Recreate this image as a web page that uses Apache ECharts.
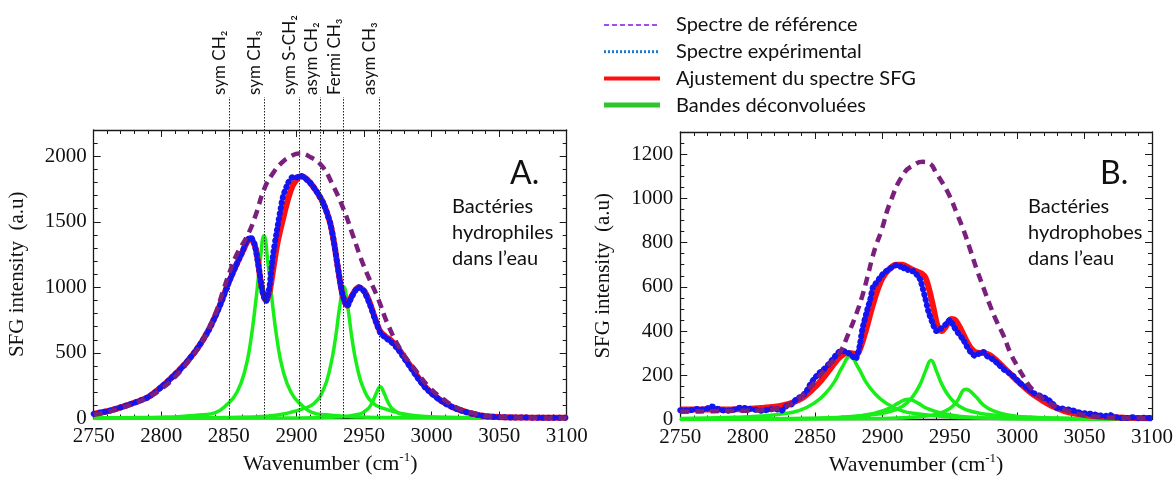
<!DOCTYPE html>
<html>
<head>
<meta charset="utf-8">
<script src="https://cdn.jsdelivr.net/npm/echarts@6/dist/echarts.min.js"></script>
<style>
html, body { margin: 0; padding: 0; background: #fff; }
#chart { width: 1176px; height: 482px; }
</style>
</head>
<body>
<div id="chart"></div>
<script>
// ---- data (wavenumber cm-1, SFG intensity a.u.) ----
// panel A : bacteries hydrophiles
var refA = [[2750,30],[2760,50],[2770,80],[2780,115],[2790,160],[2800,225],[2810,315],[2820,435],[2830,580],[2840,800],[2846,980],[2850,1100],[2856,1255],[2864,1400],[2870,1555],[2876,1746],[2882,1860],[2889,1950],[2896,2000],[2902,2020],[2911,1990],[2919,1924],[2926,1800],[2935,1593],[2942,1390],[2950,1160],[2960,925],[2968,710],[2978,510],[2988,370],[2998,242],[3008,153],[3020,76],[3032,38],[3045,14],[3060,8],[3080,5],[3100,4]];
var expA = [[2750,35],[2755,45],[2760,55],[2765,68],[2770,85],[2775,102],[2780,120],[2785,140],[2790,160],[2795,195],[2800,240],[2805,285],[2810,335],[2815,385],[2820,445],[2825,510],[2830,585],[2835,670],[2840,780],[2845,900],[2850,1040],[2855,1160],[2860,1270],[2863,1350],[2866,1385],[2869,1330],[2872,1160],[2875,960],[2877.5,892],[2880,1000],[2882.5,1236],[2886,1460],[2890,1690],[2894,1800],[2897,1840],[2900,1838],[2903,1853],[2906,1835],[2910,1800],[2915,1730],[2920,1640],[2925,1490],[2928,1330],[2931,1130],[2934,950],[2937.5,854],[2941,930],[2946,1002],[2950,970],[2954,880],[2958,760],[2962,655],[2966,615],[2970,585],[2975,530],[2980,455],[2985,380],[2990,305],[2995,240],[3000,190],[3005,150],[3010,115],[3015,88],[3020,68],[3025,50],[3030,36],[3035,25],[3040,17],[3045,13],[3050,10],[3060,8],[3070,7],[3080,6],[3090,5],[3100,5]];
var fitA = [[2750,35],[2760,55],[2770,85],[2780,120],[2790,162],[2800,240],[2810,335],[2820,445],[2830,585],[2840,780],[2850,1040],[2860,1270],[2866,1375],[2870,1290],[2874,1020],[2877.5,900],[2880,960],[2883,1150],[2886,1340],[2890,1520],[2894,1680],[2897,1770],[2900,1820],[2903,1848],[2906,1840],[2910,1800],[2915,1730],[2920,1640],[2925,1490],[2928,1330],[2931,1130],[2934,950],[2937.5,860],[2941,935],[2946,1000],[2950,975],[2954,890],[2958,770],[2962,665],[2966,625],[2970,595],[2975,540],[2985,390],[2995,245],[3005,152],[3015,90],[3025,52],[3035,26],[3050,11],[3070,7],[3100,5]];
var bandA1 = [[2750,5],[2780,7],[2800,10],[2815,16],[2830,28],[2840,45],[2849,110],[2856,200],[2862,370],[2866,580],[2870,900],[2873,1180],[2876,1394],[2879,1180],[2882,900],[2886,580],[2890,370],[2896,200],[2903,110],[2912,45],[2922,28],[2937,16],[2952,10],[2972,7],[3000,5],[3100,2]];
var bandA2 = [[2750,2],[2800,4],[2850,8],[2880,20],[2895,45],[2905,75],[2913,115],[2920,220],[2925,390],[2929,620],[2932,850],[2935,1005],[2938,850],[2941,620],[2945,390],[2950,220],[2957,115],[2965,75],[2975,45],[2990,20],[3020,8],[3070,4],[3100,3]];
var bandA3 = [[2750,0],[2900,3],[2930,12],[2945,30],[2952,65],[2956,120],[2959,190],[2962,242],[2965,190],[2968,120],[2972,65],[2979,30],[2994,12],[3030,4],[3100,1]];

// panel B : bacteries hydrophobes
var refB = [[2750,35],[2760,36],[2770,37],[2780,38],[2790,39],[2800,40],[2810,42],[2820,47],[2828,58],[2835,80],[2840,105],[2845,135],[2850,170],[2855,210],[2860,245],[2865,275],[2870,320],[2874,377],[2880,468],[2885,558],[2889,648],[2892,720],[2895,783],[2899,850],[2906,986],[2916,1114],[2923,1150],[2930,1165],[2935,1158],[2940,1114],[2945,1065],[2950,1009],[2955,935],[2960,859],[2965,770],[2970,678],[2975,595],[2980,513],[2985,440],[2990,377],[2995,300],[3000,242],[3005,190],[3009,152],[3014,120],[3019,92],[3025,70],[3031,54],[3038,38],[3046,24],[3055,15],[3065,10],[3080,7],[3100,5]];
var expB = [[2750,42],[2756,40],[2762,47],[2768,45],[2773,59],[2778,48],[2784,39],[2790,45],[2795,54],[2800,50],[2806,44],[2811,39],[2816,46],[2821,47],[2825,40],[2829,62],[2833,70],[2836,92],[2840,105],[2843,122],[2847,165],[2850,189],[2853,210],[2856,224],[2860,250],[2863,272],[2866,295],[2869,310],[2872,308],[2875,300],[2878,285],[2880,272],[2883,330],[2885,407],[2888,480],[2891,545],[2893,600],[2895,615],[2898,640],[2901,663],[2905,680],[2909,695],[2912,701],[2914.6,680],[2917,690],[2920,670],[2923,671],[2926,650],[2928,633],[2930,590],[2932,543],[2934,490],[2937,438],[2940,400],[2943,410],[2947,430],[2950,450],[2953,420],[2956,392],[2960,360],[2962.5,332],[2966,300],[2969,287],[2972,300],[2975,305],[2978,285],[2982,272],[2986,250],[2990,227],[2994,210],[2997,197],[3002,165],[3007,144],[3012,120],[3017,107],[3021.5,95],[3025,80],[3029,54],[3033,50],[3039,44],[3043,38],[3046,32],[3050,28],[3055,25],[3060,20],[3065,15],[3068,22],[3072,12],[3076,8],[3080,6],[3085,10],[3090,6],[3095,8],[3100,5]];
var fitB = [[2750,45],[2770,45],[2790,46],[2800,48],[2810,52],[2820,58],[2830,70],[2840,95],[2848,135],[2855,180],[2862,235],[2868,280],[2873,300],[2877,300],[2881,295],[2884,330],[2888,410],[2892,500],[2896,580],[2900,640],[2905,680],[2910,700],[2915,700],[2920,685],[2925,670],[2929,660],[2932,640],[2935,580],[2938,500],[2941,420],[2944,400],[2947,420],[2951,455],[2954,450],[2958,410],[2962,360],[2966,320],[2970,302],[2975,300],[2980,290],[2985,265],[2990,235],[2995,205],[3000,175],[3005,148],[3010,122],[3015,100],[3020,80],[3025,63],[3030,50],[3035,38],[3040,30],[3050,20],[3060,14],[3070,10],[3080,8],[3100,6]];
var bandB1 = [[2750,4],[2790,10],[2810,16],[2825,25],[2838,40],[2850,77],[2858,120],[2864,167],[2870,235],[2876,285],[2882,235],[2888,167],[2894,120],[2902,77],[2914,40],[2927,25],[2945,14],[2970,7],[3020,3],[3100,1]];
var bandB2 = [[2750,0],[2850,5],[2880,14],[2895,30],[2905,50],[2912,75],[2919,92],[2926,75],[2933,50],[2943,30],[2958,14],[2990,5],[3100,1]];
var bandB3 = [[2750,1],[2850,6],[2890,20],[2905,35],[2915,60],[2922,100],[2928,160],[2932,220],[2936,268],[2940,220],[2944,160],[2950,100],[2957,60],[2967,35],[2982,20],[3020,7],[3100,2]];
var bandB4 = [[2750,0],[2900,5],[2930,14],[2942,28],[2950,50],[2955,80],[2962,137],[2969,105],[2975,65],[2982,40],[2992,22],[3010,10],[3050,4],[3100,2]];

// assignments marked above panel A
var modePos = [2850, 2876, 2902, 2918, 2935, 2961];
var modeNames = ['sym CH\u2082', 'sym CH\u2083', 'sym S-CH\u2082', 'asym CH\u2082', 'Fermi CH\u2083', 'asym CH\u2083'];

var legendNames = ['Spectre de référence', 'Spectre expérimental', 'Ajustement du spectre SFG', 'Bandes déconvoluées'];
var xTicks = {min: 2750, max: 3100, interval: 50};

var chart = echarts.init(document.getElementById('chart'));

var SERIF = 'Liberation Serif';
var SANS = 'Lato';
var INK = '#1a1a1a';

function plain(v) { return String(v); }

function xAx(grid, pos, withLabel) {
  var a = {
    type: 'value', gridIndex: grid, position: pos,
    min: xTicks.min, max: xTicks.max, interval: xTicks.interval,
    axisLine: {show: true, onZero: false, lineStyle: {color: INK, width: 1.3}},
    axisTick: {show: true, inside: true, length: 7, lineStyle: {color: INK}},
    minorTick: {show: true, splitNumber: 5, length: 4, lineStyle: {color: INK}},
    splitLine: {show: false},
    axisLabel: {show: withLabel, formatter: plain, margin: 7, color: '#111', fontFamily: SERIF, fontSize: 21}
  };
  if (withLabel) {
    a.name = '{a|Wavenumber (cm}{s|-1}{a|)}';
    a.nameLocation = 'middle';
    a.nameGap = 32;
    a.nameTextStyle = {
      rich: {
        a: {fontFamily: SERIF, fontSize: 22, color: '#111', lineHeight: 26},
        s: {fontFamily: SERIF, fontSize: 13, color: '#111', lineHeight: 13, verticalAlign: 'top'}
      }
    };
  }
  return a;
}

function yAx(grid, pos, max, interval, major, withLabel) {
  var a = {
    type: 'value', gridIndex: grid, position: pos,
    min: 0, max: max, interval: interval,
    axisLine: {show: major, onZero: false, lineStyle: {color: INK, width: 1.3}},
    axisTick: {show: true, inside: true, length: major ? 7 : 4, lineStyle: {color: INK}},
    splitLine: {show: false},
    axisLabel: {show: withLabel, formatter: plain, showMaxLabel: false, margin: 7, color: '#111', fontFamily: SERIF, fontSize: 21}
  };
  if (withLabel) {
    a.name = 'SFG intensity  (a.u)';
    a.nameLocation = 'middle';
    a.nameRotate = 90;
    a.nameGap = 66;
    a.nameTextStyle = {fontFamily: SERIF, fontSize: 21, color: '#111'};
  }
  return a;
}

function line(name, data, xi, yi, style, z) {
  return {
    name: name, type: 'line', data: data, xAxisIndex: xi, yAxisIndex: yi,
    showSymbol: false, symbol: 'none', smooth: style.smooth, z: z,
    lineStyle: style.line, silent: true
  };
}

var stRef = {smooth: true, line: {color: '#7a1f7d', width: 4.5, type: [9, 6]}};
var stExp = {smooth: 0.2, line: {color: '#1414f0', width: 6, type: [0.5, 5], cap: 'round'}};
var stFit = {smooth: 0.3, line: {color: '#ff1010', width: 6}};
var stBand = {smooth: true, line: {color: '#18ee18', width: 3.5}};

var series = [
  line('bandA1', bandA1, 0, 0, stBand, 2),
  line('bandA2', bandA2, 0, 0, stBand, 2),
  line('bandA3', bandA3, 0, 0, stBand, 2),
  line('fitA', fitA, 0, 0, stFit, 3),
  line('expA', expA, 0, 0, stExp, 4),
  line('refA', refA, 0, 0, stRef, 5),
  line('bandB1', bandB1, 2, 4, stBand, 2),
  line('bandB2', bandB2, 2, 4, stBand, 2),
  line('bandB3', bandB3, 2, 4, stBand, 2),
  line('bandB4', bandB4, 2, 4, stBand, 2),
  line('fitB', fitB, 2, 4, stFit, 3),
  line('expB', expB, 2, 4, stExp, 4),
  line('refB', refB, 2, 4, stRef, 5),
  {
    type: 'line', xAxisIndex: 4, yAxisIndex: 8, data: [[2750, 0], [3100, 0]],
    showSymbol: false, lineStyle: {opacity: 0}, silent: true, z: 1,
    markLine: {
      silent: true, symbol: ['none', 'none'], animation: false,
      label: {show: false},
      lineStyle: {color: '#222', width: 1, type: [1.5, 1.5]},
      data: modePos.map(function (v) { return {xAxis: v}; })
    }
  }
];

// legend and panel captions
var legendStyles = [
  {stroke: '#a24cf0', lineWidth: 2, lineDash: [5, 3]},
  {stroke: '#1c7ad4', lineWidth: 3, lineDash: [2, 2]},
  {stroke: '#ff1010', lineWidth: 4},
  {stroke: '#2ec52e', lineWidth: 5}
];
var graphics = [];
legendNames.forEach(function (t, i) {
  var y = 25 + i * 26.7;
  graphics.push({type: 'line', shape: {x1: 604, y1: y, x2: 660, y2: y}, style: legendStyles[i], silent: true});
  graphics.push({type: 'text', x: 676, y: y, style: {text: t, fontFamily: SANS, fontSize: 20, fill: '#111', textVerticalAlign: 'middle', verticalAlign: 'middle'}, silent: true});
});
function caption(x, y, t, size) {
  return {type: 'text', x: x, y: y, silent: true,
    style: {text: t, fontFamily: SANS, fontSize: size, fill: '#111', textVerticalAlign: 'middle', verticalAlign: 'middle'}};
}
graphics.push(caption(510, 174, 'A.', 32));
graphics.push(caption(452, 207, 'Bactéries', 20));
graphics.push(caption(452, 233, 'hydrophiles', 20));
graphics.push(caption(452, 259, 'dans l\u2019eau', 20));
graphics.push(caption(1100, 174, 'B.', 32));
graphics.push(caption(1028, 207, 'Bactéries', 20));
graphics.push(caption(1028, 233, 'hydrophobes', 20));
graphics.push(caption(1028, 259, 'dans l\u2019eau', 20));

var option = {
  animation: false,
  backgroundColor: '#fff',
  grid: [
    {left: 93.7, top: 130, width: 473, height: 288.5},
    {left: 680.3, top: 132, width: 475, height: 287.5},
    {left: 93.7, top: 97, width: 473, height: 321.5}
  ],
  xAxis: [
    xAx(0, 'bottom', true),
    xAx(0, 'top', false),
    xAx(1, 'bottom', true),
    xAx(1, 'top', false),
    {type: 'value', gridIndex: 2, min: xTicks.min, max: xTicks.max, show: false}
  ],
  yAxis: [
    yAx(0, 'left', 2200, 500, true, true),
    yAx(0, 'left', 2200, 100, false, false),
    yAx(0, 'right', 2200, 500, true, false),
    yAx(0, 'right', 2200, 100, false, false),
    yAx(1, 'left', 1300, 200, true, true),
    yAx(1, 'left', 1300, 50, false, false),
    yAx(1, 'right', 1300, 200, true, false),
    yAx(1, 'right', 1300, 50, false, false),
    {type: 'value', gridIndex: 2, min: 0, max: 1, show: false}
  ],
  series: series,
  graphic: graphics
};
chart.setOption(option);

// rotated assignment labels above panel A, placed at the axis positions
var topY = chart.convertToPixel({xAxisIndex: 4, yAxisIndex: 8}, [2750, 1])[1];
modeNames.forEach(function (t, i) {
  var px = chart.convertToPixel({xAxisIndex: 4}, modePos[i]);
  graphics.push({
    type: 'text', x: px - 1, y: topY - 2, rotation: Math.PI / 2, silent: true,
    style: {text: t, fontFamily: SANS, fontSize: 17, fill: '#111',
      textAlign: 'left', align: 'left', textVerticalAlign: 'bottom', verticalAlign: 'bottom'}
  });
});
chart.setOption({graphic: graphics});
</script>
</body>
</html>
